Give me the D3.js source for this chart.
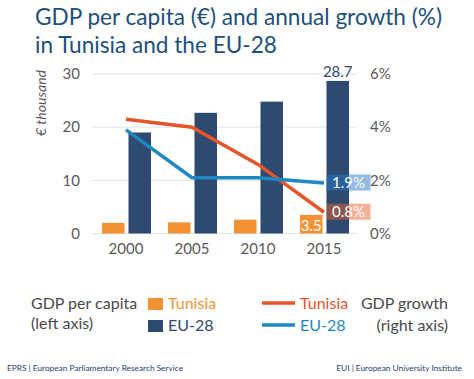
<!DOCTYPE html>
<html><head><meta charset="utf-8">
<script src="https://cdn.jsdelivr.net/npm/d3@7"></script>
<style>
body{margin:0;background:#fff;}
svg{display:block;font-family:"Lato","Open Sans",sans-serif;}
</style></head>
<body>
<script>
const years = ["2000","2005","2010","2015"];
const gdpTunisia = [2.0, 2.1, 2.6, 3.5];
const gdpEU = [19.0, 22.7, 24.8, 28.7];
const growthTunisia = [4.3, 4.0, 2.6, 0.8];
const growthEU = [3.9, 2.1, 2.1, 1.9];
const leftTicks = [0, 10, 20, 30];
const rightTicks = [0, 2, 4, 6];

const W = 474, H = 379;
const cOrange = "#f39234", cNavy = "#2e4a70", cRed = "#e8542a", cBlue = "#1f88c2";
const svg = d3.select("body").append("svg").attr("width", W).attr("height", H);

const x = d3.scaleBand().domain(years).range([93, 357]).padding(0);
const xs = d3.scaleBand().domain(["Tunisia","EU"]).range([9, 58]).paddingInner(0.15);
const yL = d3.scaleLinear().domain([0, 30]).range([233.5, 74]);
const yR = d3.scaleLinear().domain([0, 6]).range([233.5, 74]);

// title
const title = svg.append("g").attr("fill", "#1d4f7c").style("font-size", "22.6px");
title.append("text").attr("x", 35).attr("y", 25).text("GDP per capita (€) and annual growth (%)");
title.append("text").attr("x", 35).attr("y", 53).text("in Tunisia and the EU-28");

// gridlines
svg.append("g").selectAll("line").data(leftTicks).join("line")
  .attr("x1", 92).attr("x2", 357)
  .attr("y1", d => yL(d)).attr("y2", d => yL(d))
  .attr("stroke", "#e3e3e3").attr("stroke-width", 1);

// left axis
const axL = svg.append("g").attr("transform", "translate(80,0)")
  .call(d3.axisLeft(yL).tickValues(leftTicks).tickSize(0).tickPadding(0));
axL.select(".domain").remove();
axL.selectAll("text").attr("fill", "#595959").style("font-size", "15px").style("font-family", "Lato, sans-serif");

// right axis
const axR = svg.append("g").attr("transform", "translate(370,0)")
  .call(d3.axisRight(yR).tickValues(rightTicks).tickFormat(d => d + "%").tickSize(0).tickPadding(0));
axR.select(".domain").remove();
axR.selectAll("text").attr("fill", "#595959").style("font-size", "15px").style("font-family", "Lato, sans-serif");

// x axis
const axX = svg.append("g").attr("transform", "translate(0,243)")
  .call(d3.axisBottom(x).tickSize(0).tickPadding(0));
axX.select(".domain").remove();
axX.selectAll("text").attr("fill", "#595959").style("font-size", "15px").style("font-family", "Lato, sans-serif");

// y-axis title
svg.append("text").attr("transform", "translate(46,103) rotate(-90)")
  .attr("text-anchor", "middle").attr("fill", "#595959")
  .style("font-size", "14px").style("font-style", "italic").text("€ thousand");

// bars
const gBars = svg.append("g");
gBars.selectAll("rect.tun").data(years).join("rect").attr("class","tun")
  .attr("x", d => x(d) + xs("Tunisia")).attr("width", xs.bandwidth())
  .attr("y", (d,i) => yL(gdpTunisia[i])).attr("height", (d,i) => yL(0) - yL(gdpTunisia[i]))
  .attr("fill", cOrange);
gBars.selectAll("rect.eu").data(years).join("rect").attr("class","eu")
  .attr("x", d => x(d) + xs("EU")).attr("width", xs.bandwidth())
  .attr("y", (d,i) => yL(gdpEU[i])).attr("height", (d,i) => yL(0) - yL(gdpEU[i]))
  .attr("fill", cNavy);

// lines
const line = d3.line().x((d,i) => x(years[i]) + x.bandwidth()/2).y(d => yR(d));
svg.append("path").datum(growthTunisia).attr("d", line)
  .attr("fill", "none").attr("stroke", cRed).attr("stroke-width", 3.5);
svg.append("path").datum(growthEU).attr("d", line)
  .attr("fill", "none").attr("stroke", cBlue).attr("stroke-width", 3.5);

// data labels
const last = years.length - 1;
svg.append("text").attr("x", x(years[last]) + xs("EU") + xs.bandwidth()/2).attr("y", yL(gdpEU[last]) - 4)
  .attr("text-anchor", "middle").attr("fill", cNavy).style("font-size", "15px").text(gdpEU[last].toFixed(1));
svg.append("text").attr("x", x(years[last]) + xs("Tunisia") + xs.bandwidth()/2).attr("y", yL(0) - 3)
  .attr("text-anchor", "middle").attr("fill", "#fff").style("font-size", "15px").text(gdpTunisia[last].toFixed(1));

function pctLabel(v, fill, txtCol) {
  const cy = yR(v);
  const bx = x(years[last]) + xs("EU");
  svg.append("rect").attr("x", bx).attr("y", cy - 8.5).attr("width", 44).attr("height", 16)
    .attr("fill", fill);
  svg.append("text").attr("x", bx + 22).attr("y", cy + 5).attr("text-anchor", "middle")
    .attr("fill", txtCol).style("font-size", "15px").text(v.toFixed(1) + "%");
}
pctLabel(growthEU[last], "rgba(40,120,200,0.5)", "#fff");
pctLabel(growthTunisia[last], "rgba(235,100,50,0.5)", "#fff");

// legend
const lg = svg.append("g").style("font-size", "16px");
lg.append("text").attr("x", 31).attr("y", 309).attr("fill", "#4a4a4a").text("GDP per capita");
lg.append("text").attr("x", 31).attr("y", 329).attr("fill", "#4a4a4a").text("(left axis)");
lg.append("rect").attr("x", 148).attr("y", 298).attr("width", 15).attr("height", 12).attr("fill", cOrange);
lg.append("rect").attr("x", 148).attr("y", 320).attr("width", 15).attr("height", 12).attr("fill", cNavy);
lg.append("text").attr("x", 168).attr("y", 309).attr("fill", cOrange).text("Tunisia");
lg.append("text").attr("x", 168).attr("y", 331).attr("fill", cNavy).text("EU-28");
lg.append("line").attr("x1", 262).attr("x2", 295).attr("y1", 303).attr("y2", 303).attr("stroke", cRed).attr("stroke-width", 3.5);
lg.append("line").attr("x1", 262).attr("x2", 295).attr("y1", 325).attr("y2", 325).attr("stroke", cBlue).attr("stroke-width", 3.5);
lg.append("text").attr("x", 300).attr("y", 309).attr("fill", cRed).text("Tunisia");
lg.append("text").attr("x", 300).attr("y", 331).attr("fill", cBlue).text("EU-28");
lg.append("text").attr("x", 448).attr("y", 309).attr("text-anchor", "end").attr("fill", "#4a4a4a").text("GDP growth");
lg.append("text").attr("x", 448).attr("y", 331).attr("text-anchor", "end").attr("fill", "#4a4a4a").text("(right axis)");

// footer
const ft = svg.append("g").style("font-size", "8.3px").attr("fill", "#1f3d6b");
ft.append("text").attr("x", 7).attr("y", 371).text("EPRS | European Parliamentary Research Service");
ft.append("text").attr("x", 462).attr("y", 371).attr("text-anchor", "end").text("EUI | European University Institute");
</script>
</body></html>
